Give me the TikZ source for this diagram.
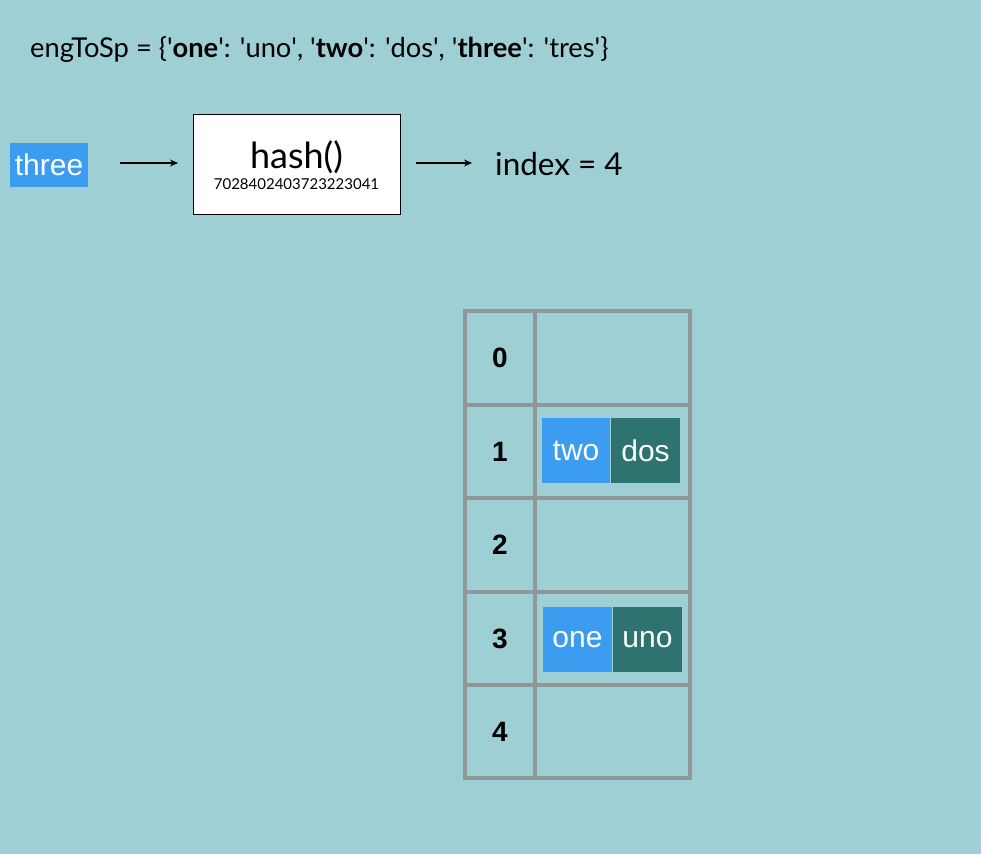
\documentclass[tikz,border=0pt]{standalone}
\usepackage{fontspec}
\setmainfont{Lato}
\newfontfamily\arialfont{Liberation Sans}
\usetikzlibrary{arrows.meta}
\definecolor{bgteal}{HTML}{9ECFD4}
\definecolor{keyblue}{HTML}{3B9CF0}
\definecolor{valteal}{HTML}{2E736F}
\definecolor{gridgray}{HTML}{8F9797}
\newcommand{\sq}{\textquotesingle}
\tikzset{
  keybox/.style={fill=keyblue, text=white, inner sep=0pt, font=\arialfont\fontsize{30}{30}\selectfont, anchor=center},
  valbox/.style={fill=valteal, text=white, inner sep=0pt, font=\arialfont\fontsize{30}{30}\selectfont, anchor=center},
  idx/.style={font=\arialfont\bfseries\fontsize{28}{28}\selectfont},
  flow/.style={-{Stealth[length=8pt,width=7pt]}, line width=1.3pt, black},
  grid/.style={draw=gridgray, line width=3.5pt}
}
\begin{document}
\begin{tikzpicture}[x=1pt,y=-1pt]
  % canvas
  \fill[bgteal] (0,0) rectangle (981,854);
  \useasboundingbox (0,0) rectangle (981,854);

  % dictionary literal
  \node[anchor=west, inner sep=0pt, font=\fontsize{27.3}{28}\selectfont] (dict) at (30,50)
    {engToSp = \{\sq\textbf{one}\sq: \sq uno\sq, \sq\textbf{two}\sq: \sq dos\sq, \sq\textbf{three}\sq: \sq tres\sq\}};

  % hashing step
  \node[keybox, minimum width=78pt, minimum height=44pt] (key) at (49,165) {three};
  \node[draw=black, fill=white, line width=1pt, minimum width=207pt, minimum height=100pt] (hash) at (296.5,164) {};
  \node[font=\fontsize{36}{36}\selectfont, inner sep=0pt] (hashlbl) at (296.5,157) {hash()};
  \node[font=\fontsize{15}{15}\selectfont, inner sep=0pt] (hashval) at (296.5,184) {7028402403723223041};
  \node[anchor=west, inner sep=0pt, font=\fontsize{31.5}{32}\selectfont] (index) at (495,164) {index = 4};
  \coordinate (a1s) at (120,163);
  \coordinate (a1e) at (178,163);
  \coordinate (a2s) at (416,163);
  \coordinate (a2e) at (472,163);
  \draw[flow] (a1s) -- (a1e);
  \draw[flow] (a2s) -- (a2e);

  % hash table
  \draw[grid] (465,311) rectangle (690,778);
  \draw[grid] (535,311) -- (535,778);
  \foreach \yy in {405,498,592,685} {
    \draw[grid] (465,\yy) -- (690,\yy);
  }
  \node[idx] (i0) at (500,358) {0};
  \node[idx] (i1) at (500,452) {1};
  \node[idx] (i2) at (500,545) {2};
  \node[idx] (i3) at (500,639) {3};
  \node[idx] (i4) at (500,732) {4};

  % stored entries
  \node[keybox, minimum width=68pt, minimum height=65pt] (k1) at (576,450.5) {two};
  \node[valbox, minimum width=69pt, minimum height=65pt] (v1) at (645.5,450.5) {dos};
  \node[keybox, minimum width=69pt, minimum height=65pt] (k3) at (577.5,639.5) {one};
  \node[valbox, minimum width=69pt, minimum height=65pt] (v3) at (647.5,639.5) {uno};
\end{tikzpicture}
\end{document}
